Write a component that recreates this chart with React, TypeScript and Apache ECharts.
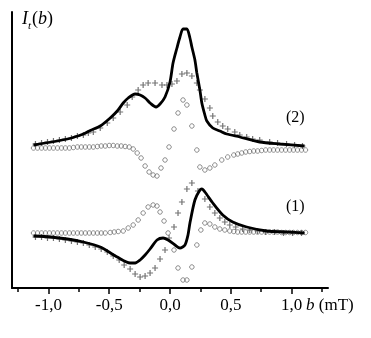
import React, { useEffect, useRef } from "react";
import * as echarts from "echarts";

// ---- data (x in mT, y in arbitrary intensity units) ----
const curve2X = [-1.123,-0.844,-0.713,-0.656,-0.574,-0.492,-0.434,-0.385,-0.344,-0.287,-0.246,-0.205,-0.164,-0.115,-0.082,-0.041,0,0.025,0.057,0.082,0.107,0.139,0.164,0.180,0.205,0.221,0.246,0.262,0.287,0.303,0.352,0.410,0.467,0.574,0.738,0.902,1.107];
const curve2Y = [143,149,154,157.5,162,170,177,185,190,194,193,190,185,181,184,191,206,225,240,251,259,259,250,241,228,215,198,185,173,167,160,157,154,151,146,144,142];

const curve1X = [-1.123,-0.984,-0.844,-0.713,-0.574,-0.434,-0.328,-0.287,-0.246,-0.205,-0.164,-0.107,-0.057,-0.016,0.041,0.082,0.123,0.148,0.164,0.205,0.246,0.262,0.287,0.352,0.434,0.516,0.631,0.795,0.959,1.107];
const curve1Y = [52,51,49,46,41,31,25,25,28,33,39,48,50,48,43,40,43,53,65,88,98,99,96,85,73,66,61,57,56,55];

const crosses2X = [-1.107,-1.057,-1.008,-0.959,-0.910,-0.861,-0.811,-0.762,-0.713,-0.672,-0.631,-0.574,-0.516,-0.467,-0.410,-0.352,-0.311,-0.262,-0.221,-0.180,-0.123,-0.066,-0.025,0.016,0.057,0.098,0.139,0.180,0.221,0.246,0.287,0.328,0.352,0.393,0.434,0.475,0.533,0.574,0.631,0.680,0.738,0.820,0.885,0.959,1.025,1.090];
const crosses2Y = [144,145,146,147,148,149,150,152,153,155,156,160,165,170,176,183,191,198,203,205,205,203,203,204,207,214,215,212,205,198,189,180,172,166,162,159,156,153,151,149,148,146,145,144,143,142];

const circles2X = [-1.123,-1.090,-1.057,-1.025,-0.992,-0.959,-0.926,-0.893,-0.861,-0.828,-0.795,-0.762,-0.730,-0.697,-0.664,-0.631,-0.598,-0.566,-0.533,-0.500,-0.467,-0.434,-0.402,-0.369,-0.336,-0.303,-0.270,-0.238,-0.205,-0.172,-0.139,-0.107,-0.074,-0.041,-0.008,0.033,0.066,0.107,0.139,0.180,0.221,0.246,0.287,0.328,0.369,0.426,0.475,0.525,0.557,0.590,0.623,0.656,0.689,0.721,0.754,0.787,0.820,0.852,0.885,0.918,0.951,0.984,1.016,1.049,1.082,1.115];
const circles2Y = [140,140,140,140,140,140,140,140,140,140,140.5,141,141,141,141,141,141.5,142,142,142.5,142.5,142,142,141.5,141,139,135,130,122,116,113,112,120,128,141,159,175,188,183,162,138,121,118,120,123,128,131,133,134,135,136,136.5,137,137,137.5,138,138,138,138,138,138,138,138,138,138,138];

const crosses1X = [-1.107,-1.057,-1.008,-0.959,-0.910,-0.861,-0.811,-0.762,-0.713,-0.664,-0.615,-0.566,-0.516,-0.467,-0.418,-0.377,-0.328,-0.287,-0.246,-0.205,-0.164,-0.123,-0.082,-0.041,-0.008,0.033,0.066,0.098,0.139,0.180,0.230,0.287,0.328,0.369,0.410,0.451,0.492,0.541,0.598,0.656,0.721,0.787,0.861,0.934,1.008,1.082];
const crosses1Y = [51,51,50,50,49,48,47,46,45,43,41,39,36,32,28,23,19,14,11,12,15,20,29,38,50,61,75,86,99,105,97,89,81,75,70,66,63,61,59,58,57,56,56,55,55,55];

const circles1X = [-1.123,-1.090,-1.057,-1.025,-0.992,-0.959,-0.926,-0.893,-0.861,-0.828,-0.795,-0.762,-0.730,-0.697,-0.664,-0.631,-0.598,-0.566,-0.533,-0.492,-0.459,-0.426,-0.385,-0.344,-0.303,-0.262,-0.221,-0.180,-0.139,-0.107,-0.082,-0.049,-0.016,0.033,0.066,0.107,0.139,0.180,0.221,0.254,0.287,0.328,0.369,0.410,0.451,0.492,0.525,0.557,0.590,0.623,0.656,0.689,0.721,0.754,0.787,0.820,0.852,0.885,0.918,0.951,0.984,1.016,1.049,1.082,1.115];
const circles1Y = [55,55,55,55,55,55,55,55,55,55,55,55,55,55,55,55,55,55,55,55.5,56,56.5,57,60,63,68,75,81,83,82,76,67,55,38,20,8,8,21,43,58,65,64,61,59,58,57,56.5,56,56,56,56,56,56,56,56,56,56,56,55.5,55.5,55.5,55.5,55.5,55.5,55.5];

const majorTicks = [-1, -0.5, 0, 0.5, 1];
const minorTicks = [-1.25, -0.75, -0.25, 0.25, 0.75, 1.25];
const xUnitLabel = "b";
const xUnitSuffix = " (mT)";
const curveLabels = ["(2)", "(1)"];

const zip = (xs: number[], ys: number[]) => xs.map((x, i) => [x, ys[i]]);

const SERIF = '"Liberation Serif", "DejaVu Serif", serif';
const CROSS = "path://M2,0H3V5H2Z M0,2H5V3H0Z";

export default function App() {
  const ref = useRef<HTMLDivElement>(null);
  useEffect(() => {
    if (!ref.current) return;
    const chart = echarts.init(ref.current, null, { renderer: "svg" });
    const circleStyle = { color: "rgba(0,0,0,0)", borderColor: "#707070", borderWidth: 1 };
    const crossStyle = { color: "#505050" };
    chart.setOption({
      animation: false,
      textStyle: { fontFamily: SERIF },
      grid: { left: 12, right: 43, top: 12, bottom: 50 },
      xAxis: [
        {
          type: "value",
          min: -1.3,
          max: 1.3,
          position: "bottom",
          axisLine: { onZero: false, lineStyle: { color: "#000", width: 2 } },
          axisTick: { customValues: majorTicks, length: 6, lineStyle: { color: "#000", width: 1.5 } },
          axisLabel: {
            customValues: majorTicks,
            formatter: (v: number) => v.toFixed(1).replace(".", ","),
            fontFamily: SERIF,
            fontSize: 17,
            color: "#000",
            margin: 8,
          },
          splitLine: { show: false },
        },
        {
          type: "value",
          min: -1.3,
          max: 1.3,
          position: "bottom",
          axisLine: { show: false, onZero: false },
          axisTick: { customValues: minorTicks, length: 4, lineStyle: { color: "#000", width: 1.5 } },
          axisLabel: { show: false },
          splitLine: { show: false },
        },
      ],
      yAxis: {
        type: "value",
        min: 0,
        max: 276,
        position: "left",
        axisLine: { show: true, onZero: false, lineStyle: { color: "#000", width: 2 } },
        axisTick: { show: false },
        axisLabel: { show: false },
        splitLine: { show: false },
      },
      series: [
        { type: "scatter", data: zip(circles2X, circles2Y), symbol: "circle", symbolSize: 4.5, itemStyle: circleStyle },
        { type: "scatter", data: zip(circles1X, circles1Y), symbol: "circle", symbolSize: 4.5, itemStyle: circleStyle },
        { type: "scatter", data: zip(crosses2X, crosses2Y), symbol: CROSS, symbolSize: 6, itemStyle: crossStyle },
        { type: "scatter", data: zip(crosses1X, crosses1Y), symbol: CROSS, symbolSize: 6, itemStyle: crossStyle },
        { type: "line", data: zip(curve2X, curve2Y), symbol: "none", smooth: 0.25, lineStyle: { color: "#000", width: 2.8 } },
        { type: "line", data: zip(curve1X, curve1Y), symbol: "none", smooth: 0.25, lineStyle: { color: "#000", width: 2.8 } },
      ],
      graphic: [
        { type: "text", x: 22, y: 9, style: { text: "I", font: `italic 18px ${SERIF}`, fill: "#000", align: "left", verticalAlign: "top" } },
        { type: "text", x: 28, y: 19, style: { text: "t", font: `italic 11px ${SERIF}`, fill: "#000", align: "left", verticalAlign: "top" } },
        {
          type: "text",
          x: 32,
          y: 9,
          style: {
            text: "({i|b})",
            font: `18px ${SERIF}`,
            rich: { i: { fontStyle: "italic", fontSize: 18, fontFamily: SERIF } },
            fill: "#000",
            align: "left",
            verticalAlign: "top",
          },
        },
        {
          type: "text",
          x: 306,
          y: 296,
          style: {
            text: `{i|${xUnitLabel}}${xUnitSuffix}`,
            font: `17px ${SERIF}`,
            rich: { i: { fontStyle: "italic", fontSize: 17, fontFamily: SERIF } },
            fill: "#000",
            align: "left",
            verticalAlign: "top",
          },
        },
        { type: "text", x: 286, y: 108, style: { text: curveLabels[0], font: `16px ${SERIF}`, fill: "#000", align: "left", verticalAlign: "top" } },
        { type: "text", x: 286, y: 197, style: { text: curveLabels[1], font: `16px ${SERIF}`, fill: "#000", align: "left", verticalAlign: "top" } },
      ],
    });
    return () => chart.dispose();
  }, []);
  return <div ref={ref} style={{ position: "fixed", left: 0, top: 0, width: 371, height: 338 }} />;
}
